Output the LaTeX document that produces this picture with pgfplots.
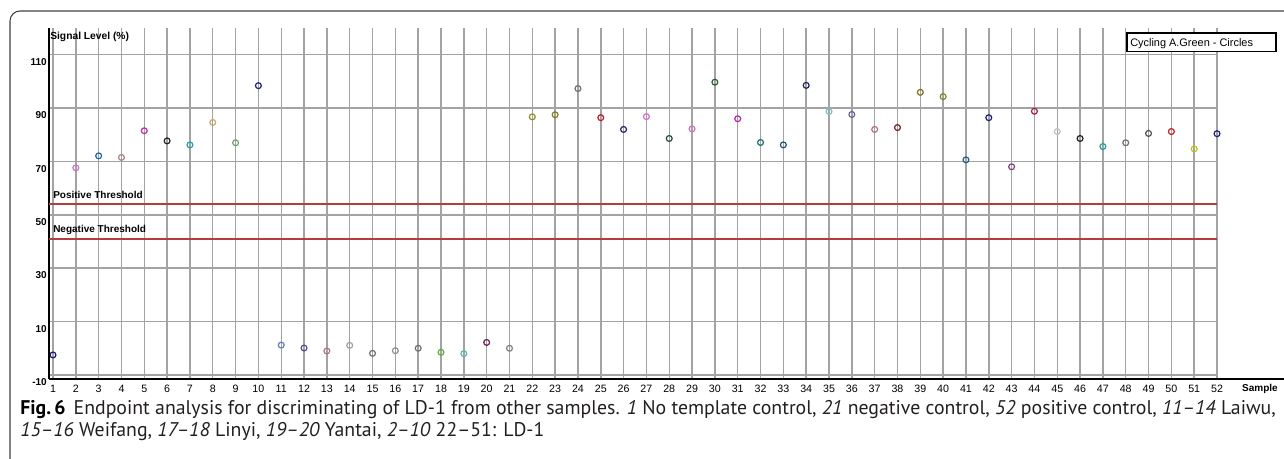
\documentclass[border=0pt]{standalone}
\usepackage{fontspec}
\setmainfont{Liberation Sans}
\newfontfamily\capfont{PT Sans}
\usepackage{graphicx}
\usepackage{pgfplots}
\pgfplotsset{compat=1.18}

% one colour per sample
\definecolor{s1}{HTML}{1A1A6E}\definecolor{s2}{HTML}{D070C8}\definecolor{s3}{HTML}{2060A8}
\definecolor{s4}{HTML}{B08080}\definecolor{s5}{HTML}{B030B0}\definecolor{s6}{HTML}{202020}
\definecolor{s7}{HTML}{20A0B0}\definecolor{s8}{HTML}{C8A870}\definecolor{s9}{HTML}{70A070}
\definecolor{s10}{HTML}{202070}\definecolor{s11}{HTML}{6080B0}\definecolor{s12}{HTML}{5050A0}
\definecolor{s13}{HTML}{B07090}\definecolor{s14}{HTML}{A0A0A0}\definecolor{s15}{HTML}{707070}
\definecolor{s16}{HTML}{909090}\definecolor{s17}{HTML}{707070}\definecolor{s18}{HTML}{60B040}
\definecolor{s19}{HTML}{60B0C0}\definecolor{s20}{HTML}{602050}\definecolor{s21}{HTML}{808080}
\definecolor{s22}{HTML}{909020}\definecolor{s23}{HTML}{808020}\definecolor{s24}{HTML}{707070}
\definecolor{s25}{HTML}{B02030}\definecolor{s26}{HTML}{202080}\definecolor{s27}{HTML}{D070D0}
\definecolor{s28}{HTML}{205040}\definecolor{s29}{HTML}{D070C0}\definecolor{s30}{HTML}{306030}
\definecolor{s31}{HTML}{C020B0}\definecolor{s32}{HTML}{207070}\definecolor{s33}{HTML}{205070}
\definecolor{s34}{HTML}{202060}\definecolor{s35}{HTML}{80C0C0}\definecolor{s36}{HTML}{6060A0}
\definecolor{s37}{HTML}{B07090}\definecolor{s38}{HTML}{702020}\definecolor{s39}{HTML}{807020}
\definecolor{s40}{HTML}{808030}\definecolor{s41}{HTML}{206080}\definecolor{s42}{HTML}{202070}
\definecolor{s43}{HTML}{804080}\definecolor{s44}{HTML}{A02040}\definecolor{s45}{HTML}{C0C0C0}
\definecolor{s46}{HTML}{202020}\definecolor{s47}{HTML}{20A0A0}\definecolor{s48}{HTML}{707070}
\definecolor{s49}{HTML}{505050}\definecolor{s50}{HTML}{C02020}\definecolor{s51}{HTML}{C0C020}
\definecolor{s52}{HTML}{202080}
\definecolor{thr}{HTML}{B83A3A}
\definecolor{captxt}{HTML}{231F20}

\newcommand{\pnt}[3]{\addplot[only marks, mark=o, mark size=2.2pt,
  mark options={draw=#1, line width=0.9pt}] coordinates {(#2,#3)};}

\begin{document}
\begin{tikzpicture}
\useasboundingbox (0,0) rectangle (963pt,344.25pt);
% rounded frame, open to the right and bottom
\draw[black!75, line width=0.8pt, rounded corners=7.5pt]
  (7.5pt,-1pt) -- (7.5pt,336pt) -- (964pt,336pt);

\begin{axis}[
  scale only axis,
  width=876pt, height=263.25pt,
  at={(36.75pt,60pt)}, anchor=south west,
  xmin=0.825, xmax=52, ymin=-11.5, ymax=120,
  axis x line*=bottom, axis y line*=left,
  axis line style={-, line width=1.5pt, black},
  xtick={1,...,52},
  xticklabel={\pgfmathprintnumber[assume math mode=true]{\tick}},
  ytick={-10,10,30,50,70,90,110},
  yticklabels={-10,10,30,50,70,90,110},
  major tick length=0pt,
  xticklabel style={font=\fontsize{8}{8}\selectfont, inner sep=0pt, yshift=-4.5pt},
  yticklabel style={font=\fontsize{7.5}{7.5}\selectfont\bfseries, inner sep=1.5pt, yshift=-5.5pt},
  grid=major,
  grid style={color=black!36, line width=1.1pt},
  clip=false,
]
\addplot[thr, line width=1.1pt] coordinates {(0.825,54) (52,54)};
\addplot[thr, line width=1.1pt] coordinates {(0.825,41) (52,41)};

\pnt{s1}{1}{-2.5}\pnt{s2}{2}{67.6}\pnt{s3}{3}{72.1}\pnt{s4}{4}{71.5}
\pnt{s5}{5}{81.5}\pnt{s6}{6}{77.7}\pnt{s7}{7}{76.2}\pnt{s8}{8}{84.6}
\pnt{s9}{9}{77.0}\pnt{s10}{10}{98.4}\pnt{s11}{11}{1.2}\pnt{s12}{12}{0.1}
\pnt{s13}{13}{-1.0}\pnt{s14}{14}{1.1}\pnt{s15}{15}{-1.9}\pnt{s16}{16}{-0.9}
\pnt{s17}{17}{0.0}\pnt{s18}{18}{-1.5}\pnt{s19}{19}{-2.0}\pnt{s20}{20}{2.2}
\pnt{s21}{21}{0.0}\pnt{s22}{22}{86.7}\pnt{s23}{23}{87.5}\pnt{s24}{24}{97.3}
\pnt{s25}{25}{86.4}\pnt{s26}{26}{82.0}\pnt{s27}{27}{86.8}\pnt{s28}{28}{78.6}
\pnt{s29}{29}{82.2}\pnt{s30}{30}{99.7}\pnt{s31}{31}{86.0}\pnt{s32}{32}{77.1}
\pnt{s33}{33}{76.2}\pnt{s34}{34}{98.5}\pnt{s35}{35}{88.7}\pnt{s36}{36}{87.6}
\pnt{s37}{37}{82.0}\pnt{s38}{38}{82.7}\pnt{s39}{39}{95.9}\pnt{s40}{40}{94.3}
\pnt{s41}{41}{70.6}\pnt{s42}{42}{86.4}\pnt{s43}{43}{68.0}\pnt{s44}{44}{88.8}
\pnt{s45}{45}{81.2}\pnt{s46}{46}{78.6}\pnt{s47}{47}{75.6}\pnt{s48}{48}{77.0}
\pnt{s49}{49}{80.5}\pnt{s50}{50}{81.2}\pnt{s51}{51}{74.7}\pnt{s52}{52}{80.4}

\node[anchor=base west, inner sep=0pt, font=\fontsize{7.7}{7.7}\selectfont\bfseries]
  at (axis cs:0.87,115.6) {Signal Level (\%)};
\node[anchor=base west, inner sep=0pt, yshift=4.5pt, font=\fontsize{7.5}{7.5}\selectfont\bfseries]
  at (axis cs:1,54) {Positive Threshold};
\node[anchor=base west, inner sep=0pt, yshift=4.5pt, font=\fontsize{7.5}{7.5}\selectfont\bfseries]
  at (axis cs:1,41) {Negative Threshold};
\end{axis}

% x axis runs on past the last sample
\draw[line width=1.5pt] (912pt,60pt) -- (963pt,60pt);
\node[font=\fontsize{7.5}{7.5}\selectfont\bfseries, inner sep=0pt] at (945pt,52.5pt) {Sample};

% legend box
\draw[line width=1pt, fill=white] (845.25pt,305.5pt) rectangle (957pt,319.5pt);
\node[anchor=base west, inner sep=0pt, font=\fontsize{8.2}{8.2}\selectfont] at (847.5pt,309.2pt)
  {Cycling A.Green - Circles};

% caption
\node[anchor=base west, inner sep=0pt, text=captxt, font=\capfont\fontsize{14.85}{14.85}\selectfont]
  at (15pt,33pt) {\textcolor{black}{\bfseries Fig.\,6}\hspace{6pt}Endpoint analysis for discriminating of LD-1 from other samples. \textit{1} No template control, \textit{21} negative control, \textit{52} positive control, \textit{11–14} Laiwu,};
\node[anchor=base west, inner sep=0pt, text=captxt, font=\capfont\fontsize{14.85}{14.85}\selectfont]
  at (15pt,17pt) {\textit{15–16} Weifang, \textit{17–18} Linyi, \textit{19–20} Yantai, \textit{2–10} 22–51: LD-1};
\end{tikzpicture}
\end{document}
